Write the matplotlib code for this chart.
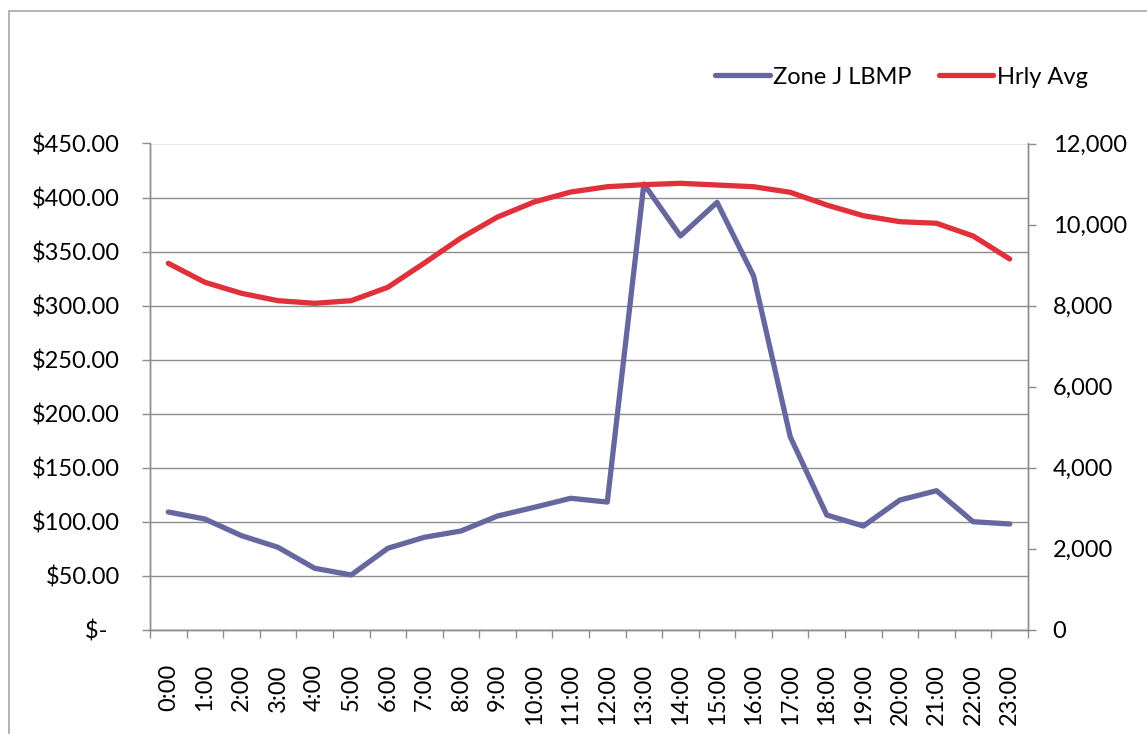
import numpy as np
import matplotlib
matplotlib.use("Agg")
import matplotlib.pyplot as plt
from matplotlib.patches import Rectangle
from matplotlib.ticker import FuncFormatter, MultipleLocator

plt.rcParams['font.family'] = ['Lato', 'DejaVu Sans']

# Data
hours = ["%d:00" % h for h in range(24)]
zone_j_lbmp = [108.8, 102.3, 86.9, 76.1, 56.7, 50.5, 75.2, 85.4, 91.2, 105.1, 113.1, 121.5,
               118.0, 412.5, 364.4, 395.5, 327.3, 178.5, 106.0, 95.8, 119.9, 128.5, 99.8, 97.7]
hrly_avg = [9042, 8573, 8301, 8119, 8054, 8119, 8449, 9049, 9667, 10185, 10556, 10802,
            10933, 10983, 11017, 10975, 10933, 10795, 10481, 10217, 10069, 10030, 9716, 9148]

BLUE = '#65679e'
RED = '#e0303a'
GRID = '#8c8c8c'
W, H = 1147, 734
FS = 17

fig = plt.figure(figsize=(W / 100, H / 100), dpi=100)
# chart frame (cut off at right / bottom in the reference)
fig.patches.append(Rectangle((9 / W, -0.1), 1.2, 1.1 - 11 / H, transform=fig.transFigure,
                             fill=False, edgecolor='#a6a6a6', linewidth=1.2))

ax = fig.add_axes([150 / W, 1 - 629.5 / H, (1028 - 150) / W, (629.5 - 143.5) / H])
x = np.arange(len(hours))

ax.plot(x, zone_j_lbmp, color=BLUE, linewidth=3.8, solid_capstyle='round', label='Zone J LBMP')
ax.set_xlim(-0.5, 23.5)
ax.set_ylim(0, 450)
ax.yaxis.set_major_locator(MultipleLocator(50))
ax.yaxis.set_major_formatter(FuncFormatter(lambda v, p: "$-  " if v == 0 else "${:,.2f}".format(v)))
ax.grid(axis='y', color=GRID, linewidth=1.0)
ax.set_axisbelow(True)

ax.set_xticks(x)
ax.set_xticklabels(hours, rotation=90, va='top', ha='center')
ax.set_xticks(np.arange(-0.5, 24, 1), minor=True)
ax.tick_params(axis='x', which='major', length=0, pad=25, labelsize=FS)
ax.tick_params(axis='x', which='minor', length=5.8, color=GRID, width=1.0)
ax.tick_params(axis='y', length=5.8, color=GRID, width=1.0, pad=16, labelsize=FS)

ax2 = ax.twinx()
ax2.plot(x, hrly_avg, color=RED, linewidth=3.8, solid_capstyle='round', label='Hrly Avg')
ax2.set_ylim(0, 12000)
ax2.yaxis.set_major_locator(MultipleLocator(2000))
ax2.yaxis.set_major_formatter(FuncFormatter(lambda v, p: "{:,.0f}".format(v)))
ax2.tick_params(axis='y', length=5.8, color=GRID, width=1.0, pad=12, labelsize=FS)

for a in (ax, ax2):
    a.spines['top'].set_visible(False)
    for s in ('left', 'right', 'bottom'):
        a.spines[s].set_color(GRID)
        a.spines[s].set_linewidth(1.0)

handles = ax.get_lines() + ax2.get_lines()
fig.legend(handles, [h.get_label() for h in handles], loc='center right',
           bbox_to_anchor=(1097 / W, 1 - 77 / H), ncol=2, frameon=False, fontsize=FS,
           handlelength=2.3, handletextpad=0.15, columnspacing=1.15, borderaxespad=0)

fig.savefig("out.png", dpi=100)
